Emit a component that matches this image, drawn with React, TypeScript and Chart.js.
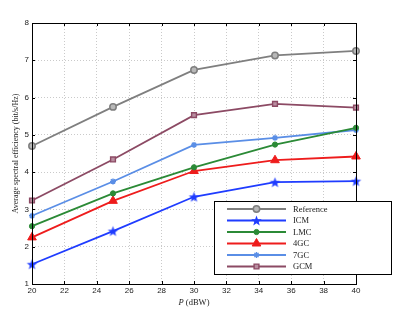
import React, { useEffect, useRef } from "react";
import { Chart, registerables } from "chart.js";
import { drawPoint } from "chart.js/helpers";

Chart.register(...registerables);

const powerDBW = [20, 25, 30, 35, 40];
const referenceSE = [4.7, 5.75, 6.74, 7.13, 7.25];
const icmSE = [1.53, 2.42, 3.34, 3.73, 3.76];
const lmcSE = [2.55, 3.43, 4.13, 4.74, 5.19];
const gc4SE = [2.25, 3.23, 4.03, 4.32, 4.42];
const gc7SE = [2.83, 3.75, 4.73, 4.92, 5.13];
const gcmSE = [3.24, 4.34, 5.53, 5.83, 5.73];
const xTicks = [20, 22, 24, 26, 28, 30, 32, 34, 36, 38, 40];
const yTicks = [1, 2, 3, 4, 5, 6, 7, 8];
const seriesNames = ["Reference", "ICM", "LMC", "4GC", "7GC", "GCM"];

function makeStar(color: string, R: number): HTMLCanvasElement {
  const size = Math.ceil(R * 2 + 2);
  const c = document.createElement("canvas");
  c.width = size;
  c.height = size;
  const g = c.getContext("2d")!;
  const cx = size / 2;
  const cy = size / 2 + 0.5;
  const r = R * 0.42;
  g.beginPath();
  for (let i = 0; i < 10; i++) {
    const rad = i % 2 === 0 ? R : r;
    const a = -Math.PI / 2 + (i * Math.PI) / 5;
    const px = cx + rad * Math.cos(a);
    const py = cy + rad * Math.sin(a);
    if (i === 0) g.moveTo(px, py);
    else g.lineTo(px, py);
  }
  g.closePath();
  g.fillStyle = color;
  g.fill();
  return c;
}

export default function App() {
  const ref = useRef<HTMLCanvasElement>(null);
  useEffect(() => {
    document.body.style.margin = "0";
    const star = makeStar("#1f3cff", 5.5);
    const styles = [
      { color: "#7f7f7f", bg: "#b8b8b8", pointStyle: "circle", radius: 3.2, pbw: 1.5 },
      { color: "#1f3cff", bg: "#1f3cff", pointStyle: star, radius: 5, pbw: 1 },
      { color: "#2b8a36", bg: "#2b8a36", pointStyle: "circle", radius: 2.6, pbw: 1 },
      { color: "#ee1c1c", bg: "#ee1c1c", pointStyle: "triangle", radius: 5, pbw: 1 },
      { color: "#5a8ee6", bg: "#5a8ee6", pointStyle: "star", radius: 3, pbw: 1.4 },
      { color: "#8c4a64", bg: "#b98ea0", pointStyle: "rect", radius: 3.4, pbw: 1.4 },
    ];
    const values = [referenceSE, icmSE, lmcSE, gc4SE, gc7SE, gcmSE];
    const datasets = seriesNames.map((name, i) => ({
      label: name,
      data: powerDBW.map((x, j) => ({ x, y: values[i][j] })),
      borderColor: styles[i].color,
      backgroundColor: styles[i].bg,
      pointBorderColor: styles[i].color,
      pointBackgroundColor: styles[i].bg,
      pointStyle: styles[i].pointStyle as any,
      pointRadius: styles[i].radius,
      pointBorderWidth: styles[i].pbw,
      borderWidth: 1.8,
      tension: 0,
      clip: false as any,
    }));

    const framePlugin = {
      id: "frame",
      afterDraw(chart: any) {
        const { ctx, chartArea: a, scales } = chart;
        ctx.save();
        // frame
        ctx.strokeStyle = "#000";
        ctx.lineWidth = 1;
        ctx.strokeRect(Math.round(a.left) + 0.5, Math.round(a.top) + 0.5, Math.round(a.right - a.left), Math.round(a.bottom - a.top));
        // inward ticks
        ctx.beginPath();
        for (const t of xTicks) {
          const px = Math.round(scales.x.getPixelForValue(t)) + 0.5;
          ctx.moveTo(px, a.bottom);
          ctx.lineTo(px, a.bottom - 3);
          ctx.moveTo(px, a.top);
          ctx.lineTo(px, a.top + 3);
        }
        for (const t of yTicks) {
          const py = Math.round(scales.y.getPixelForValue(t)) + 0.5;
          ctx.moveTo(a.left, py);
          ctx.lineTo(a.left + 3, py);
          ctx.moveTo(a.right, py);
          ctx.lineTo(a.right - 3, py);
        }
        ctx.stroke();
        // axis titles
        ctx.fillStyle = "#222";
        ctx.font = "8px 'Liberation Serif'";
        ctx.textAlign = "center";
        ctx.textBaseline = "middle";
        ctx.save();
        ctx.translate(15.5, (a.top + a.bottom) / 2);
        ctx.rotate(-Math.PI / 2);
        ctx.fillText("Average spectral efficiency (bit/s/Hz)", 0, 0);
        ctx.restore();
        const cx = (a.left + a.right) / 2;
        ctx.font = "8.5px 'Liberation Serif'";
        const rest = " (dBW)";
        ctx.font = "italic 8.5px 'Liberation Serif'";
        const wP = ctx.measureText("P").width;
        ctx.font = "8.5px 'Liberation Serif'";
        const wR = ctx.measureText(rest).width;
        const x0 = cx - (wP + wR) / 2;
        ctx.textAlign = "left";
        ctx.font = "italic 8.5px 'Liberation Serif'";
        ctx.fillText("P", x0, 303);
        ctx.font = "8.5px 'Liberation Serif'";
        ctx.fillText(rest, x0 + wP, 303);
        // legend
        const lx = 214, ly = 201, lw = 177, lh = 73;
        ctx.fillStyle = "#fff";
        ctx.fillRect(lx, ly, lw, lh);
        ctx.strokeStyle = "#000";
        ctx.lineWidth = 1;
        ctx.strokeRect(lx + 0.5, ly + 0.5, lw, lh);
        const rows = [209, 220.5, 232, 243.5, 255, 266.5];
        seriesNames.forEach((name, i) => {
          const y = rows[i];
          const s = styles[i];
          ctx.strokeStyle = s.color;
          ctx.lineWidth = 1.8;
          ctx.beginPath();
          ctx.moveTo(227, y);
          ctx.lineTo(286, y);
          ctx.stroke();
          ctx.fillStyle = s.bg;
          ctx.strokeStyle = s.color;
          ctx.lineWidth = s.pbw;
          drawPoint(ctx, { pointStyle: s.pointStyle as any, radius: s.radius, rotation: 0, borderWidth: s.pbw } as any, 256.5, y);
          ctx.fillStyle = "#222";
          ctx.font = "8.5px 'Liberation Serif'";
          ctx.textAlign = "left";
          ctx.textBaseline = "middle";
          ctx.fillText(name, 293, y + 0.5);
        });
        ctx.restore();
      },
    };

    const chart = new Chart(ref.current!, {
      type: "line",
      data: { datasets: datasets as any },
      options: {
        animation: false,
        responsive: false,
        layout: { padding: { top: 23, right: 42, left: 0, bottom: 0 } },
        plugins: { legend: { display: false }, tooltip: { enabled: false } },
        scales: {
          x: {
            type: "linear",
            min: 20,
            max: 40,
            afterFit: (s: any) => { s.height = 36; },
            afterBuildTicks: (s: any) => { s.ticks = xTicks.map((v) => ({ value: v })); },
            ticks: { font: { family: "'Liberation Sans'", size: 8 }, color: "#222", padding: 2, maxRotation: 0 },
            grid: { color: "#bdbdbd", lineWidth: 0.8, drawTicks: false },
            border: { display: false, dash: [1, 2] },
          },
          y: {
            min: 1,
            max: 8,
            afterFit: (s: any) => { s.width = 32; },
            afterBuildTicks: (s: any) => { s.ticks = yTicks.map((v) => ({ value: v })); },
            ticks: { font: { family: "'Liberation Sans'", size: 8 }, color: "#222", padding: 3 },
            grid: { color: "#bdbdbd", lineWidth: 0.8, drawTicks: false },
            border: { display: false, dash: [1, 2] },
          },
        },
      },
      plugins: [framePlugin],
    });
    return () => chart.destroy();
  }, []);
  return (
    <div style={{ position: "fixed", left: 0, top: 0, width: 398, height: 320, background: "#fff" }}>
      <canvas ref={ref} width={398} height={320} style={{ width: 398, height: 320 }} />
    </div>
  );
}
